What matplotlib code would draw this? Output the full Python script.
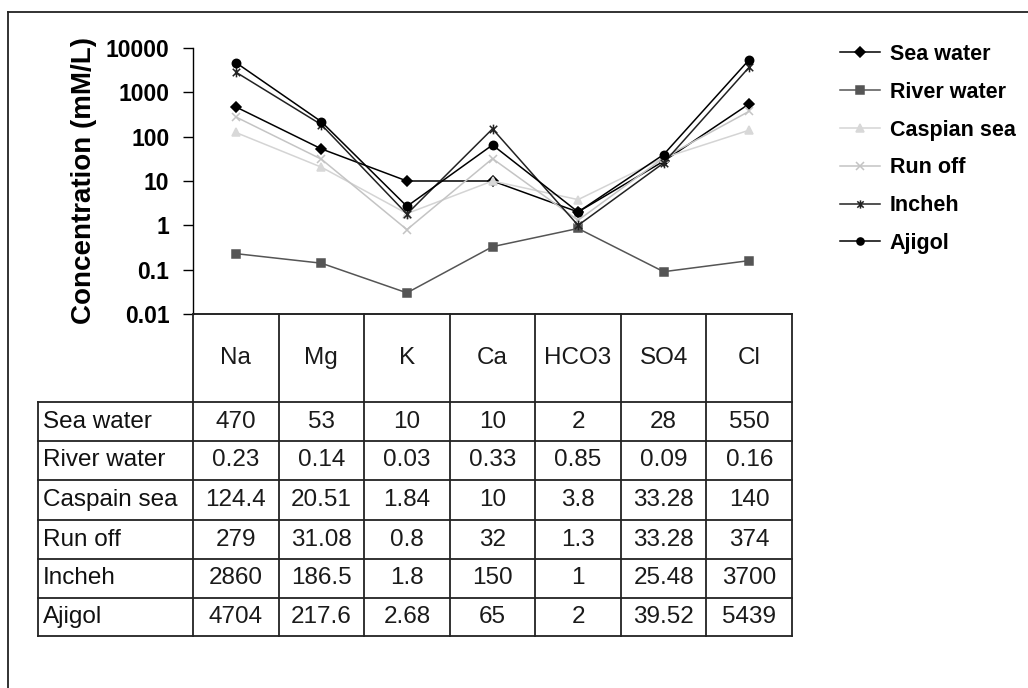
import numpy as np
import matplotlib
matplotlib.use("Agg")
import matplotlib.pyplot as plt
from matplotlib.path import Path
from matplotlib.lines import Line2D

plt.rcParams['font.family'] = ['Liberation Sans', 'DejaVu Sans']

# ---- data ----
ions = ["Na", "Mg", "K", "Ca", "HCO3", "SO4", "Cl"]
series_names = ["Sea water", "River water", "Caspian sea", "Run off", "Incheh", "Ajigol"]
table_row_labels = ["Sea water", "River water", "Caspain sea", "Run off", "Incheh", "Ajigol"]
sea_water = [470, 53, 10, 10, 2, 28, 550]
river_water = [0.23, 0.14, 0.03, 0.33, 0.85, 0.09, 0.16]
caspian_sea = [124.4, 20.51, 1.84, 10, 3.8, 33.28, 140]
run_off = [279, 31.08, 0.8, 32, 1.3, 33.28, 374]
incheh = [2860, 186.5, 1.8, 150, 1, 25.48, 3700]
ajigol = [4704, 217.6, 2.68, 65, 2, 39.52, 5439]
y_ticks = [0.01, 0.1, 1, 10, 100, 1000, 10000]
y_tick_labels = ["0.01", "0.1", "1", "10", "100", "1000", "10000"]

all_series = [sea_water, river_water, caspian_sea, run_off, incheh, ajigol]

# star marker (x with vertical bar), Excel-like
star_path = Path([(-1, -1), (1, 1), (-1, 1), (1, -1), (0, -1.3), (0, 1.3)],
                 [Path.MOVETO, Path.LINETO, Path.MOVETO, Path.LINETO, Path.MOVETO, Path.LINETO])

styles = [
    dict(color="#000000", marker="D", ms=5.5, mfc="#000000", mec="#000000"),
    dict(color="#555555", marker="s", ms=6, mfc="#555555", mec="#555555"),
    dict(color="#d4d4d4", marker="^", ms=6, mfc="#d8d8d8", mec="#d8d8d8"),
    dict(color="#c4c4c4", marker="x", ms=6, mfc="#c4c4c4", mec="#c4c4c4"),
    dict(color="#222222", marker=star_path, ms=7, mfc="none", mec="#222222"),
    dict(color="#000000", marker="o", ms=6, mfc="#000000", mec="#000000"),
]

W, H = 1028, 688
fig = plt.figure(figsize=(W / 100, H / 100), dpi=100)
fig.patch.set_facecolor("white")

def fx(px):
    return px / W

def fy(py):
    return 1 - py / H

ax_left, ax_right, ax_top, ax_bottom = 193, 792, 48, 314
ax = fig.add_axes([fx(ax_left), fy(ax_bottom), fx(ax_right - ax_left), (ax_bottom - ax_top) / H])

x = np.arange(len(ions))
for name, vals, st in zip(series_names, all_series, styles):
    ax.plot(x, vals, label=name, lw=1.1, markeredgewidth=1.1, **st)

ax.set_yscale("log")
ax.set_ylim(0.01, 10000)
ax.set_xlim(-0.5, len(ions) - 0.5)
ax.set_yticks(y_ticks)
ax.set_yticklabels(y_tick_labels, fontsize=16.5, fontweight="bold")
ax.yaxis.set_minor_locator(matplotlib.ticker.NullLocator())
ax.tick_params(axis="y", direction="out", length=7, width=1, pad=10)
ax.set_xticks([])
for s in ["top", "right"]:
    ax.spines[s].set_visible(False)
ax.spines["left"].set_linewidth(1)
ax.spines["bottom"].set_linewidth(1.2)
ax.set_ylabel("Concentration (mM/L)", fontsize=20, fontweight="bold", labelpad=6)

# ---- data table ----
col_edges = [ax_left + (ax_right - ax_left) * i / len(ions) for i in range(len(ions) + 1)]
row_edges = [402, 441, 480, 520, 559, 598, 636]
label_left = 38
lc = "#222222"
lw = 1.3

def hline(py, x0, x1):
    fig.add_artist(Line2D([fx(x0), fx(x1)], [fy(py), fy(py)], color=lc, lw=lw))

def vline(px, y0, y1):
    fig.add_artist(Line2D([fx(px), fx(px)], [fy(y0), fy(y1)], color=lc, lw=lw))

for py in row_edges:
    hline(py, label_left, ax_right)
vline(label_left, row_edges[0], row_edges[-1])
for px in col_edges:
    vline(px, ax_bottom, row_edges[-1])

cell_fs = 17.5
header_y = (ax_bottom + row_edges[0]) / 2
for i, ion in enumerate(ions):
    cx = (col_edges[i] + col_edges[i + 1]) / 2
    fig.text(fx(cx), fy(header_y), ion, ha="center", va="center", fontsize=cell_fs, color="#1a1a1a")

for r, (lab, vals) in enumerate(zip(table_row_labels, all_series)):
    cy = (row_edges[r] + row_edges[r + 1]) / 2
    fig.text(fx(label_left + 5), fy(cy), lab, ha="left", va="center", fontsize=cell_fs, color="#111111")
    for i, v in enumerate(vals):
        cx = (col_edges[i] + col_edges[i + 1]) / 2
        fig.text(fx(cx), fy(cy), f"{v:g}", ha="center", va="center", fontsize=cell_fs, color="#1a1a1a")

# ---- legend ----
handles, labels = ax.get_legend_handles_labels()
leg = fig.legend(handles, labels, loc="upper left", bbox_to_anchor=(fx(840), fy(44)),
                 frameon=False, fontsize=15.5, labelspacing=0.78, handlelength=1.85,
                 handletextpad=0.45, markerscale=0.85, borderpad=0, borderaxespad=0)
for t in leg.get_texts():
    t.set_fontweight("bold")

# ---- outer frame (top and left visible) ----
fig.add_artist(Line2D([fx(8), fx(8)], [fy(12), 0], color="#222222", lw=1.3))
fig.add_artist(Line2D([fx(8), 1], [fy(12), fy(12)], color="#222222", lw=1.3))

fig.savefig("out.png", dpi=100, facecolor="white")
